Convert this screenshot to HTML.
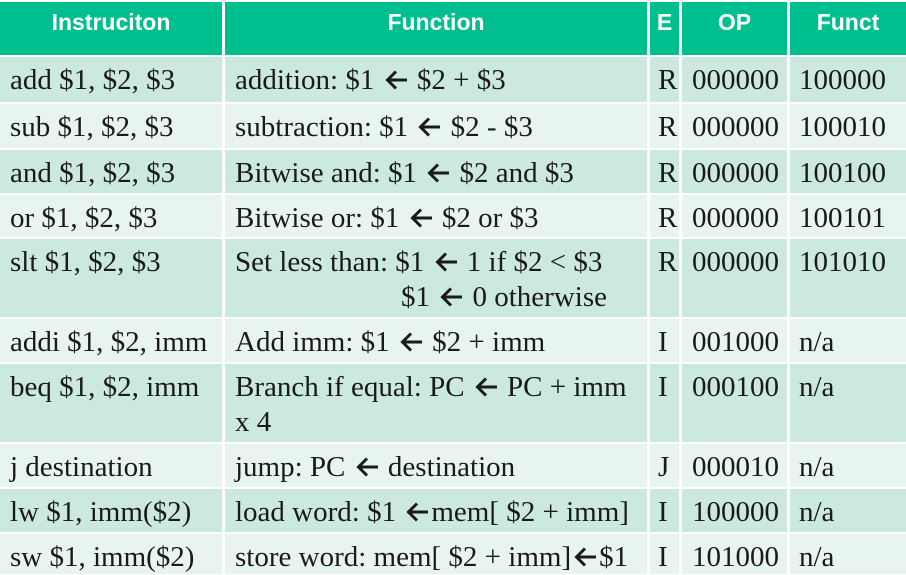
<!DOCTYPE html>
<html><head><meta charset="utf-8"><style>
body{margin:0;width:906px;height:574px;overflow:hidden;background:#fff;position:relative;}
.c{position:absolute;box-sizing:border-box;padding:6px 0 0 10px;font-family:"Liberation Serif","Times New Roman",serif;font-size:29px;line-height:35px;color:#1a1a1a;white-space:nowrap;}
.h{background:#00bf8e;color:#fff;font-family:"Liberation Sans",Arial,sans-serif;font-weight:bold;font-size:23px;text-align:center;padding:5px 0 0 0;line-height:30px;}
.d{background:#cbe9df;}
.l{background:#e7f4ef;}
svg.a{display:inline-block;width:24px;height:22px;vertical-align:-2px;margin:0 2px;}
</style></head><body>
<div class="c h" style="left:0;top:2px;width:222px;height:53px">Instruciton</div>
<div class="c h" style="left:225px;top:2px;width:422px;height:53px">Function</div>
<div class="c h" style="left:650px;top:2px;width:29px;height:53px">E</div>
<div class="c h" style="left:682px;top:2px;width:105px;height:53px">OP</div>
<div class="c h" style="left:790px;top:2px;width:116px;height:53px">Funct</div>
<div id="rows"></div>
<script>
var rows=[
[57,45,'d','add $1, $2, $3','addition: $1 <A> $2 + $3','R','000000','100000'],
[104,44,'l','sub $1, $2, $3','subtraction: $1 <A> $2 - $3','R','000000','100010'],
[150,43,'d','and $1, $2, $3','Bitwise and: $1 <A> $2 and $3','R','000000','100100'],
[195,42,'l','or $1, $2, $3','Bitwise or: $1 <A> $2 or $3','R','000000','100101'],
[239,78,'d','slt $1, $2, $3','Set less than: $1 <A> 1 if $2 &lt; $3<br><span style="padding-left:166px">$1 <A> 0 otherwise</span>','R','000000','101010'],
[319,43,'l','addi $1, $2, imm','Add imm: $1 <A> $2 + imm','I','001000','n/a'],
[364,78,'d','beq $1, $2, imm','Branch if equal: PC <A> PC + imm<br>x 4','I','000100','n/a'],
[444,43,'l','j destination','jump: PC <A> destination','J','000010','n/a'],
[489,43,'d','lw $1, imm($2)','load word: $1 <A>mem[ $2 + imm]','I','100000','n/a'],
[534,40,'l','sw $1, imm($2)','store word: mem[ $2 + imm]<A>$1','I','101000','n/a']];
var cols=[[0,222],[225,422],[650,29],[682,105],[790,116]];
var arr='<svg class="a" width="24" height="22" viewBox="0 0 24 22"><path d="M23 11H4M12 2.5L3.5 11L12 19.5" fill="none" stroke="#1a1a1a" stroke-width="3"/></svg>';
var h='';
rows.forEach(function(r){
 var t=[r[3],r[4].replace(/<A>/g,arr),r[5],r[6],r[7]];
 cols.forEach(function(c,i){
  var pad=i==2?'padding-left:8px;':(i==4?'padding-left:9px;':'');
  h+='<div class="c '+r[2]+'" style="'+pad+'left:'+c[0]+'px;top:'+r[0]+'px;width:'+c[1]+'px;height:'+r[1]+'px">'+t[i]+'</div>';
 });
});
document.getElementById('rows').innerHTML=h;
</script>
</body></html>
